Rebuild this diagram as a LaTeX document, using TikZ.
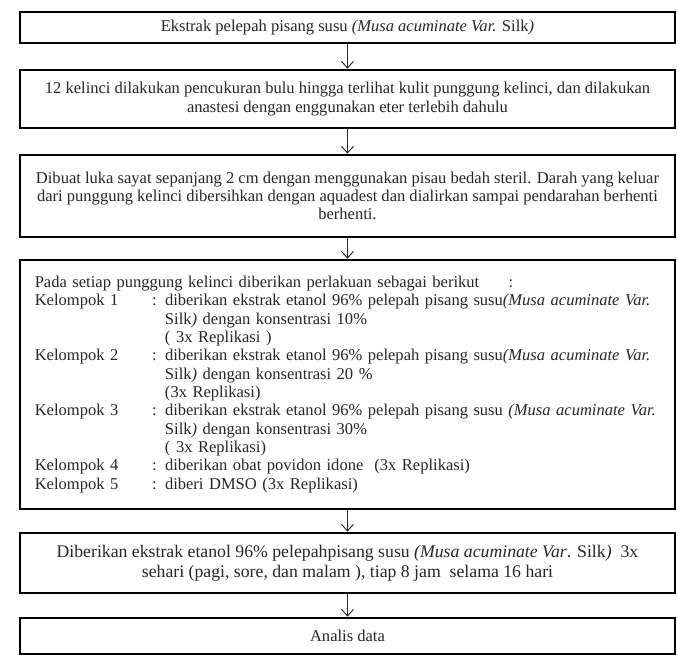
\documentclass[tikz,border=0pt]{standalone}
\usepackage{fontspec}
\setmainfont{Liberation Serif}
\usetikzlibrary{arrows.meta}

\begin{document}
\begin{tikzpicture}[>={Straight Barb[length=5pt,width=9pt]}]
\tikzset{
    box/.style  = {draw,line width=2pt,minimum width=491.25pt,inner sep=0pt,align=center,
                        font=\fontsize{12.4}{13.75}\selectfont,text=black!85},
    flow/.style = {->,line width=0.7pt,black!85}
}

\useasboundingbox (0,0) rectangle (507.75pt,-492pt);

%% the steps, top to bottom
\node (ekstrak) [box,minimum height=23.25pt] at (260.6pt,-20.6pt)
    {Ekstrak pelepah pisang susu \textit{(Musa acuminate Var.} Silk\textit{)}};
\node (cukur) [box,minimum height=43.5pt] at (260.6pt,-74.25pt)
    {12 kelinci dilakukan pencukuran bulu hingga terlihat kulit punggung kelinci, dan dilakukan\\
     anastesi dengan enggunakan eter terlebih dahulu};
\node (luka) [box,minimum height=61.5pt] at (260.6pt,-147pt)
    {Dibuat luka sayat sepanjang 2 cm dengan menggunakan pisau bedah steril. Darah yang keluar\\
     dari punggung kelinci dibersihkan dengan aquadest dan dialirkan sampai pendarahan berhenti\\
     berhenti.};
\node (kelompok) [box,minimum height=186.75pt,text width=469pt,inner xsep=11.125pt,align=left] at (260.6pt,-288.4pt)
    {\begin{tabular}{@{}p{88pt}@{}l@{}}
     \multicolumn{2}{@{}l@{}}{Pada setiap punggung kelinci diberikan perlakuan sebagai berikut\hspace{22pt}:}\\
     Kelompok 1 & : diberikan ekstrak etanol 96\% pelepah pisang susu\textit{(Musa acuminate Var.}\\
                & \hphantom{: }Silk\textit{)} dengan konsentrasi 10\%\\
                & \hphantom{: }( 3x Replikasi )\\
     Kelompok 2 & : diberikan ekstrak etanol 96\% pelepah pisang susu\textit{(Musa acuminate Var.}\\
                & \hphantom{: }Silk\textit{)} dengan konsentrasi 20 \%\\
                & \hphantom{: }(3x Replikasi)\\
     Kelompok 3 & : diberikan ekstrak etanol 96\% pelepah pisang susu \textit{(Musa acuminate Var.}\\
                & \hphantom{: }Silk\textit{)} dengan konsentrasi 30\%\\
                & \hphantom{: }( 3x Replikasi)\\
     Kelompok 4 & : diberikan obat povidon idone~~(3x Replikasi)\\
     Kelompok 5 & : diberi DMSO (3x Replikasi)
     \end{tabular}};
\node (perlakuan) [box,minimum height=45pt,font=\fontsize{13.3}{15.2}\selectfont] at (260.6pt,-422.25pt)
    {Diberikan ekstrak etanol 96\% pelepahpisang susu \textit{(Musa acuminate Var}. Silk\textit{)}~~3x\\
     sehari (pagi, sore, dan malam ), tiap 8 jam~~selama 16 hari};
\node (analisis) [box,minimum height=27pt] at (260.6pt,-477pt) {Analis data};

%% arrows between them
\draw [flow] (ekstrak) -- (cukur);
\draw [flow] (cukur) -- (luka);
\draw [flow] (luka) -- (kelompok);
\draw [flow] (kelompok) -- (perlakuan);
\draw [flow] (perlakuan) -- (analisis);

\end{tikzpicture}
\end{document}
